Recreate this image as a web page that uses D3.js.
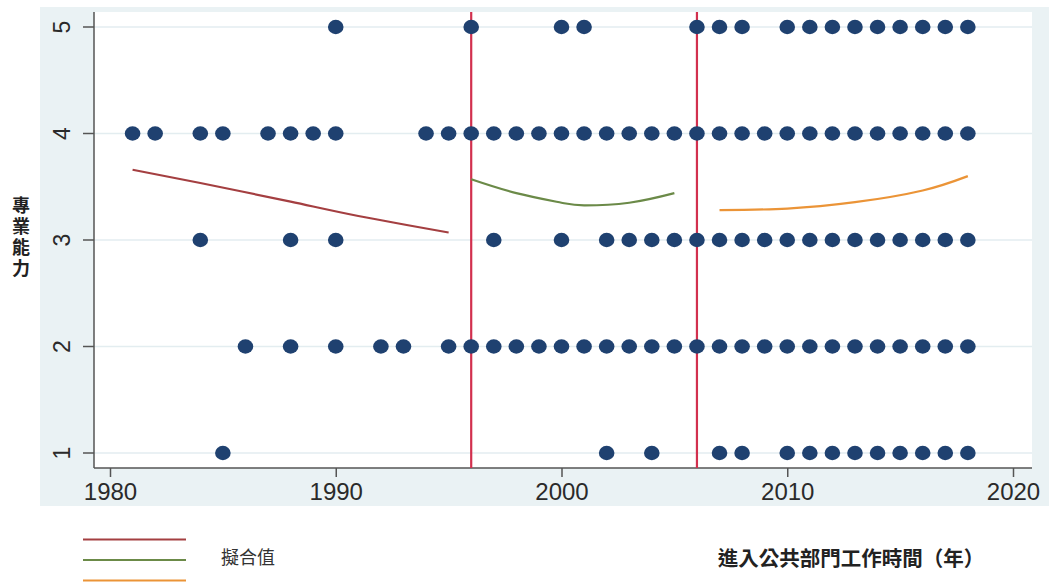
<!DOCTYPE html>
<html>
<head>
<meta charset="utf-8">
<script src="https://cdn.jsdelivr.net/npm/d3@7"></script>
<style>
  body { margin: 0; background: #fff; }
  svg { display: block; }
</style>
</head>
<body>
<div id="chart"></div>
<script>
// scatter rows: years observed at each level of 專業能力
var level5 = [1990, 1996, 2000, 2001, 2006, 2007, 2008, 2010, 2011, 2012, 2013, 2014, 2015, 2016, 2017, 2018];
var level4 = [1981, 1982, 1984, 1985, 1987, 1988, 1989, 1990, 1994, 1995, 1996, 1997, 1998, 1999, 2000,
              2001, 2002, 2003, 2004, 2005, 2006, 2007, 2008, 2009, 2010, 2011, 2012, 2013, 2014, 2015,
              2016, 2017, 2018];
var level3 = [1984, 1988, 1990, 1997, 2000, 2002, 2003, 2004, 2005, 2006, 2007, 2008, 2009, 2010, 2011,
              2012, 2013, 2014, 2015, 2016, 2017, 2018];
var level2 = [1986, 1988, 1990, 1992, 1993, 1995, 1996, 1997, 1998, 1999, 2000, 2001, 2002, 2003, 2004,
              2005, 2006, 2007, 2008, 2009, 2010, 2011, 2012, 2013, 2014, 2015, 2016, 2017, 2018];
var level1 = [1985, 2002, 2004, 2007, 2008, 2010, 2011, 2012, 2013, 2014, 2015, 2016, 2017, 2018];

// fitted values
var fit1Years = [1981, 1984, 1988, 1991, 1995];
var fit1Values = [3.66, 3.535, 3.36, 3.225, 3.07];
var fit2Years = [1996, 1998, 2000, 2001, 2003, 2005];
var fit2Values = [3.57, 3.44, 3.35, 3.325, 3.35, 3.44];
var fit3Years = [2007, 2010, 2013, 2016, 2018];
var fit3Values = [3.28, 3.295, 3.355, 3.465, 3.60];

var cutYears = [1996, 2006];
var xTicks = [1980, 1990, 2000, 2010, 2020];
var yTicks = [1, 2, 3, 4, 5];

var yTitle = "專業能力";
var xTitle = "進入公共部門工作時間（年）";
var legendLabel = "擬合值";

var width = 1049, height = 584;
var plot = {left: 94, right: 1032, top: 12, bottom: 468};

var svg = d3.select("#chart")
  .append("svg")
    .attr("width", width)
    .attr("height", height);

// graph region background
svg.append("rect")
  .attr("x", 40).attr("y", 7)
  .attr("width", width - 40).attr("height", 499)
  .attr("fill", "#eaf2f4");
svg.append("rect")
  .attr("x", plot.left).attr("y", plot.top)
  .attr("width", plot.right - plot.left).attr("height", plot.bottom - plot.top)
  .attr("fill", "#ffffff");

var x = d3.scaleLinear().domain([1980, 2020]).range([110, 1013]);
var y = d3.scaleLinear().domain([1, 5]).range([453, 27]);

// grid lines
svg.append("g").selectAll("line")
  .data(yTicks).enter()
  .append("line")
    .attr("x1", plot.left).attr("x2", plot.right)
    .attr("y1", function(d) { return y(d); })
    .attr("y2", function(d) { return y(d); })
    .attr("stroke", "#e3edf0")
    .attr("stroke-width", 1.5);

// y axis
var yAxis = svg.append("g")
  .attr("transform", "translate(" + plot.left + ",0)")
  .call(d3.axisLeft(y).tickValues(yTicks).tickSize(11).tickPadding(10).tickFormat(d3.format("d")));
yAxis.select(".domain").attr("d", "M0," + plot.top + "V" + plot.bottom);
yAxis.selectAll("path, line").attr("stroke", "#555").attr("stroke-width", 1.5);
yAxis.selectAll("text")
  .attr("transform", function(d) { return "rotate(-90," + (-32) + "," + y(d) + ")"; })
  .attr("x", -32)
  .attr("y", function(d) { return y(d); })
  .attr("dy", "0.35em")
  .attr("text-anchor", "middle")
  .attr("font-family", "Liberation Sans, Arial, sans-serif")
  .attr("font-size", 23)
  .attr("fill", "#2a2a2a");
yAxis.selectAll(".tick").attr("transform", null);
yAxis.selectAll(".tick line")
  .attr("y1", function(d) { return y(d); })
  .attr("y2", function(d) { return y(d); });

// x axis
var xAxis = svg.append("g")
  .attr("transform", "translate(0," + plot.bottom + ")")
  .call(d3.axisBottom(x).tickValues(xTicks).tickSize(9).tickPadding(6).tickFormat(d3.format("d")));
xAxis.select(".domain").attr("d", "M" + plot.left + ",0H" + plot.right);
xAxis.selectAll("path, line").attr("stroke", "#555").attr("stroke-width", 1.5);
xAxis.selectAll("text")
  .attr("font-family", "Liberation Sans, Arial, sans-serif")
  .attr("font-size", 24)
  .attr("fill", "#2a2a2a");

// cut lines
svg.append("g").selectAll("line")
  .data(cutYears).enter()
  .append("line")
    .attr("x1", function(d) { return x(d); })
    .attr("x2", function(d) { return x(d); })
    .attr("y1", plot.top).attr("y2", plot.bottom)
    .attr("stroke", "#d2304e")
    .attr("stroke-width", 2.2);

// scatter points
var rows = [[5, level5], [4, level4], [3, level3], [2, level2], [1, level1]];
var points = [];
rows.forEach(function(r) {
  r[1].forEach(function(yr) { points.push({year: yr, level: r[0]}); });
});
svg.append("g").selectAll("ellipse")
  .data(points).enter()
  .append("ellipse")
    .attr("cx", function(d) { return x(d.year); })
    .attr("cy", function(d) { return y(d.level); })
    .attr("rx", 7.8)
    .attr("ry", 7.2)
    .attr("fill", "#1f4170");

// fitted curves
var fits = [
  {years: fit1Years, values: fit1Values, color: "#a43f41"},
  {years: fit2Years, values: fit2Values, color: "#6b8a48"},
  {years: fit3Years, values: fit3Values, color: "#eb9437"}
];
var line = d3.line()
  .x(function(d) { return x(d[0]); })
  .y(function(d) { return y(d[1]); })
  .curve(d3.curveNatural);
fits.forEach(function(f) {
  svg.append("path")
    .datum(d3.zip(f.years, f.values))
    .attr("d", line)
    .attr("fill", "none")
    .attr("stroke", f.color)
    .attr("stroke-width", 2.2);
});

// y title, written top to bottom
svg.append("text")
  .attr("x", 21)
  .attr("y", 238)
  .attr("text-anchor", "middle")
  .style("writing-mode", "vertical-rl")
  .style("letter-spacing", "3px")
  .attr("font-family", "Noto Sans CJK TC, sans-serif")
  .attr("font-weight", "bold")
  .attr("font-size", 18)
  .attr("fill", "#222")
  .text(yTitle);

// x title
svg.append("text")
  .attr("x", 851)
  .attr("y", 559)
  .attr("dy", "0.36em")
  .attr("text-anchor", "middle")
  .attr("font-family", "Noto Sans CJK TC, sans-serif")
  .attr("font-weight", "bold")
  .attr("font-size", 20.5)
  .attr("fill", "#222")
  .text(xTitle);

// legend
var legendY = [539.5, 560, 580.5];
svg.append("g").selectAll("line")
  .data(fits).enter()
  .append("line")
    .attr("x1", 83).attr("x2", 186)
    .attr("y1", function(d, i) { return legendY[i]; })
    .attr("y2", function(d, i) { return legendY[i]; })
    .attr("stroke", function(d) { return d.color; })
    .attr("stroke-width", 2.2);
svg.append("text")
  .attr("x", 221)
  .attr("y", 558)
  .attr("dy", "0.36em")
  .attr("font-family", "Noto Sans CJK TC, sans-serif")
  .attr("font-size", 18)
  .attr("fill", "#333")
  .text(legendLabel);
</script>
</body>
</html>
